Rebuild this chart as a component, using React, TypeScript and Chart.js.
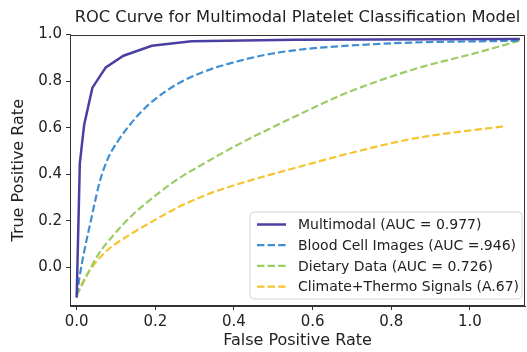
import React, { useEffect, useRef } from "react";
import { Chart, registerables } from "chart.js";
Chart.register(...registerables);

const FONT = "'DejaVu Sans', 'Liberation Sans', sans-serif";

const seriesLabels = [
  "Multimodal (AUC = 0.977)",
  "Blood Cell Images (AUC =.946)",
  "Dietary Data (AUC = 0.726)",
  "Climate+Thermo Signals (A.67)",
];
const seriesColors = ["#4a3fa3", "#3f8fd2", "#9ccc65", "#f5c431"];

const multimodalFpr = [0, 0.008, 0.019, 0.04, 0.074, 0.119, 0.191, 0.292, 0.555, 1.127];
const multimodalTpr = [-0.13, 0.448, 0.613, 0.772, 0.859, 0.909, 0.952, 0.971, 0.978, 0.981];

const bloodFpr = [0, 0.013, 0.038, 0.059, 0.08, 0.106, 0.127, 0.165, 0.199, 0.258, 0.326, 0.411, 0.517, 0.771, 1.127];
const bloodTpr = [-0.12, 0.015, 0.216, 0.37, 0.47, 0.545, 0.595, 0.67, 0.722, 0.79, 0.842, 0.886, 0.924, 0.96, 0.974];

const dietFpr = [0, 0.055, 0.097, 0.14, 0.191, 0.258, 0.335, 0.411, 0.479, 0.555, 0.687, 0.856, 1.026, 1.127];
const dietTpr = [-0.12, 0.055, 0.145, 0.222, 0.296, 0.38, 0.457, 0.528, 0.586, 0.648, 0.75, 0.85, 0.926, 0.974];

const climateFpr = [0, 0.021, 0.072, 0.14, 0.191, 0.258, 0.335, 0.411, 0.479, 0.555, 0.687, 0.856, 1.085];
const climateTpr = [-0.12, -0.045, 0.064, 0.145, 0.196, 0.258, 0.315, 0.358, 0.392, 0.427, 0.487, 0.553, 0.606];

const xTicks = [0, 0.2, 0.4, 0.6, 0.8, 1.0];
const yTicks = [0, 0.2, 0.4, 0.6, 0.8, 1.0];

const toPoints = (xs: number[], ys: number[]) => xs.map((x, i) => ({ x, y: ys[i] }));

const dashPattern = [7.4, 3.2];

const frameAndLegend = {
  id: "frameAndLegend",
  afterDatasetsDraw(chart: any) {
    const { ctx, chartArea } = chart;
    ctx.save();
    ctx.strokeStyle = "#333";
    ctx.lineWidth = 1;
    ctx.strokeRect(
      Math.round(chartArea.left) + 0.5,
      Math.round(chartArea.top) + 0.5,
      Math.round(chartArea.right - chartArea.left) - 1,
      Math.round(chartArea.bottom - chartArea.top) - 1
    );
    ctx.restore();
  },
  afterDraw(chart: any) {
    const { ctx, chartArea } = chart;
    const w = 272;
    const h = 87;
    const x0 = chartArea.right - w - 3;
    const y0 = chartArea.bottom - h - 7;
    ctx.save();
    ctx.beginPath();
    const r = 4;
    ctx.moveTo(x0 + r, y0);
    ctx.arcTo(x0 + w, y0, x0 + w, y0 + h, r);
    ctx.arcTo(x0 + w, y0 + h, x0, y0 + h, r);
    ctx.arcTo(x0, y0 + h, x0, y0, r);
    ctx.arcTo(x0, y0, x0 + w, y0, r);
    ctx.closePath();
    ctx.fillStyle = "rgba(255,255,255,0.85)";
    ctx.fill();
    ctx.strokeStyle = "#d4d4d4";
    ctx.lineWidth = 1;
    ctx.stroke();
    const rowGap = 20.7;
    chart.data.datasets.forEach((ds: any, i: number) => {
      const cy = y0 + 12.5 + i * rowGap;
      ctx.beginPath();
      ctx.strokeStyle = ds.borderColor;
      ctx.lineWidth = ds.borderWidth;
      ctx.setLineDash(ds.borderDash || []);
      ctx.moveTo(x0 + 7, cy);
      ctx.lineTo(x0 + 36, cy);
      ctx.stroke();
      ctx.setLineDash([]);
      ctx.fillStyle = "#222";
      ctx.font = `14px ${FONT}`;
      ctx.textBaseline = "middle";
      ctx.textAlign = "left";
      ctx.fillText(ds.label, x0 + 48, cy + 1);
    });
    ctx.restore();
  },
};

export default function App() {
  const ref = useRef<HTMLCanvasElement | null>(null);
  useEffect(() => {
    document.body.style.margin = "0";
    const canvas = ref.current;
    if (!canvas) return;
    const series = [
      [multimodalFpr, multimodalTpr],
      [bloodFpr, bloodTpr],
      [dietFpr, dietTpr],
      [climateFpr, climateTpr],
    ];
    const chart = new Chart(canvas, {
      type: "scatter",
      data: {
        datasets: series.map(([xs, ys], i) => ({
          label: seriesLabels[i],
          data: toPoints(xs, ys),
          showLine: true,
          borderColor: seriesColors[i],
          backgroundColor: seriesColors[i],
          borderWidth: i === 0 ? 2.5 : 2.2,
          borderDash: i === 0 ? [] : dashPattern,
          pointRadius: 0,
          pointHoverRadius: 0,
          cubicInterpolationMode: i === 0 ? "default" : "monotone",
          tension: i === 0 ? 0 : 0.4,
        })),
      },
      options: {
        responsive: false,
        animation: false,
        events: [],
        layout: { padding: { left: 0, right: 2, top: 0, bottom: 0 } },
        plugins: {
          legend: { display: false },
          tooltip: { enabled: false },
          title: {
            display: true,
            text: "ROC Curve for Multimodal Platelet Classification Model",
            color: "#222",
            font: { family: FONT, size: 16.3, weight: "normal" },
            padding: { top: 8, bottom: 7 },
            fullSize: false,
          } as any,
        },
        scales: {
          x: {
            type: "linear",
            min: -0.017,
            max: 1.14,
            afterBuildTicks: (axis: any) => {
              axis.ticks = xTicks.map((v) => ({ value: v }));
            },
            afterFit: (scale: any) => {
              scale.height = 46;
            },
            ticks: {
              color: "#222",
              font: { family: FONT, size: 15 },
              padding: 3,
              maxRotation: 0,
              callback: (v: any) => Number(v).toFixed(1),
            },
            grid: { drawOnChartArea: false, tickLength: 4, color: "#333" },
            border: { display: true, color: "#333" },
            title: {
              display: true,
              text: "False Positive Rate",
              color: "#222",
              font: { family: FONT, size: 16 },
              padding: { top: 0, bottom: 2 },
            },
          },
          y: {
            type: "linear",
            min: -0.166,
            max: 1.0,
            afterBuildTicks: (axis: any) => {
              axis.ticks = yTicks.map((v) => ({ value: v }));
            },
            afterFit: (scale: any) => {
              scale.width = 70;
            },
            ticks: {
              color: "#222",
              font: { family: FONT, size: 15 },
              padding: 4,
              callback: (v: any) => Number(v).toFixed(1),
            },
            grid: { drawOnChartArea: false, tickLength: 4, color: "#333" },
            border: { display: true, color: "#333" },
            title: {
              display: true,
              text: "True Positive Rate",
              color: "#222",
              font: { family: FONT, size: 16 },
              padding: { top: 9, bottom: 0 },
            },
          },
        },
      },
      plugins: [frameAndLegend],
    });
    return () => chart.destroy();
  }, []);
  return (
    <div style={{ width: 527, height: 352 }}>
      <canvas ref={ref} width={527} height={352} style={{ display: "block" }} />
    </div>
  );
}
